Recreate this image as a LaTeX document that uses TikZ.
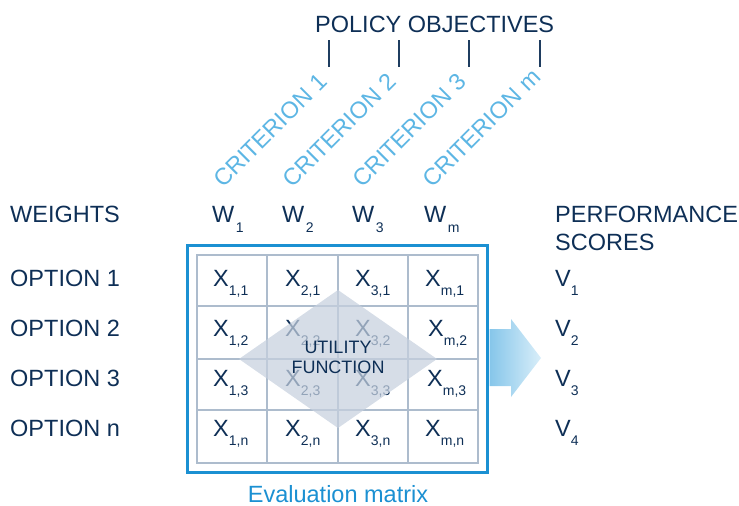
\documentclass[tikz,border=0pt]{standalone}
\usepackage{fontspec}
\setmainfont{Liberation Sans}
\definecolor{navy}{HTML}{0E2F56}
\definecolor{tick}{HTML}{1F3D60}
\definecolor{crit}{HTML}{5DB6E4}
\definecolor{frameblue}{HTML}{1B90D2}
\definecolor{gridc}{HTML}{ADBCCD}
\definecolor{diam}{HTML}{C6D0DE}
\definecolor{arrowL}{HTML}{86C6EA}
\definecolor{arrowR}{HTML}{D9EEF9}
\newcommand\lbl[2]{#1\raisebox{-9.5pt}{\fontsize{14}{14}\selectfont #2}}
\newcommand\wlbl[2]{#1\kern1.5pt\raisebox{-10.5pt}{\fontsize{14}{14}\selectfont #2}}
\begin{document}
\begin{tikzpicture}[x=1pt,y=-1pt,
  txt/.style={anchor=base west, inner sep=0pt, text=navy, font=\fontsize{23.5}{27}\selectfont},
  crittxt/.style={anchor=base west, inner sep=0pt, text=crit, rotate=45, font=\fontsize{23.5}{27}\selectfont},
  tickline/.style={draw=tick, line width=1.8pt},
  gridline/.style={draw=gridc, line width=1.5pt},
  framebox/.style={draw=frameblue, line width=3pt}]
\useasboundingbox (0,0) rectangle (739,506);

% title and criteria
\node[txt] (policy) at (315,32) {POLICY OBJECTIVES};
\foreach \i/\x in {1/329,2/399,3/469,4/540}{
  \coordinate (t\i) at (\x,40);
  \coordinate (b\i) at (\x,67);
  \draw[tickline] (t\i) -- (b\i);
}
\node[crittxt] (c1) at (223,189) {CRITERION 1};
\node[crittxt] (c2) at (292,189) {CRITERION 2};
\node[crittxt] (c3) at (362,189) {CRITERION 3};
\node[crittxt] (c4) at (432,189) {CRITERION m};

% weights row
\node[txt] (weights) at (10,222) {WEIGHTS};
\node[txt] (w1) at (212,222) {\wlbl{W}{1}};
\node[txt] (w2) at (282,222) {\wlbl{W}{2}};
\node[txt] (w3) at (352,222) {\wlbl{W}{3}};
\node[txt] (wm) at (424,222) {\wlbl{W}{m}};
\node[txt] (perf) at (555,222) {PERFORMANCE};
\node[txt] (scores) at (555,250) {SCORES};

% options
\node[txt] (o1) at (10,286) {OPTION 1};
\node[txt] (o2) at (10,336) {OPTION 2};
\node[txt] (o3) at (10,386) {OPTION 3};
\node[txt] (on) at (10,436) {OPTION n};

% frame and grid
\draw[framebox] (187.5,245.5) rectangle (487.5,472.5);
\draw[gridline] (197,255) rectangle (478,463);
\foreach \x in {267,338,408}{\draw[gridline] (\x,255) -- (\x,463);}
\foreach \y in {306,359,410}{\draw[gridline] (197,\y) -- (478,\y);}

% cell labels
\node[txt] (x11) at (213,286) {\lbl{X}{1,1}};
\node[txt] (x21) at (285,286) {\lbl{X}{2,1}};
\node[txt] (x31) at (355,286) {\lbl{X}{3,1}};
\node[txt] (xm1) at (425,286) {\lbl{X}{m,1}};
\node[txt] (x12) at (213,336) {\lbl{X}{1,2}};
\node[txt] (x22) at (285,336) {\lbl{X}{2,2}};
\node[txt] (x32) at (355,336) {\lbl{X}{3,2}};
\node[txt] (xm2) at (428,336) {\lbl{X}{m,2}};
\node[txt] (x13) at (213,386) {\lbl{X}{1,3}};
\node[txt] (x23) at (285,386) {\lbl{X}{2,3}};
\node[txt] (x33) at (355,386) {\lbl{X}{3,3}};
\node[txt] (xm3) at (427,386) {\lbl{X}{m,3}};
\node[txt] (x1n) at (213,436) {\lbl{X}{1,n}};
\node[txt] (x2n) at (285,436) {\lbl{X}{2,n}};
\node[txt] (x3n) at (355,436) {\lbl{X}{3,n}};
\node[txt] (xmn) at (425,436) {\lbl{X}{m,n}};

% utility diamond
\coordinate (dt) at (338,290);
\coordinate (dr) at (437,359);
\coordinate (db) at (338,428);
\coordinate (dl) at (239,359);
\fill[diam, fill opacity=0.72] (dt) -- (dr) -- (db) -- (dl) -- cycle;
\node[inner sep=0pt, text=navy, align=center, font=\fontsize{18}{20}\selectfont] (util) at (338,357.5) {UTILITY\\FUNCTION};

% arrow
\coordinate (a1) at (489.5,329);
\coordinate (a2) at (511,329);
\coordinate (a3) at (511,319);
\coordinate (a4) at (541,358);
\coordinate (a5) at (511,397);
\coordinate (a6) at (511,386);
\coordinate (a7) at (489.5,386);
\shade[left color=arrowL, right color=arrowR] (a1) -- (a2) -- (a3) -- (a4) -- (a5) -- (a6) -- (a7) -- cycle;

% performance scores
\node[txt] (v1) at (555,286) {\lbl{V}{1}};
\node[txt] (v2) at (555,336) {\lbl{V}{2}};
\node[txt] (v3) at (555,386) {\lbl{V}{3}};
\node[txt] (v4) at (555,436) {\lbl{V}{4}};

% caption
\node[txt, anchor=base, text=frameblue] (caption) at (338,502) {Evaluation matrix};
\end{tikzpicture}
\end{document}
